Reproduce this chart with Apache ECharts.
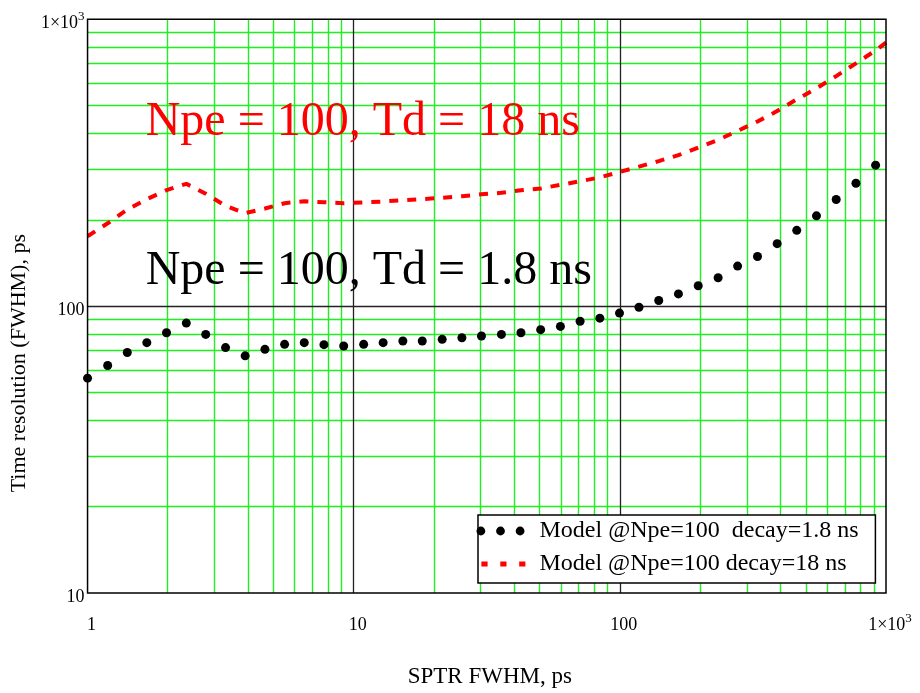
<!DOCTYPE html>
<html>
<head>
<meta charset="utf-8">
<script src="https://cdn.jsdelivr.net/npm/echarts@6/dist/echarts.min.js"></script>
<style>
  html, body { margin: 0; padding: 0; background: #ffffff; }
  #chart { width: 920px; height: 693px; }
</style>
</head>
<body>
<div id="chart"></div>
<script>
// SPTR FWHM (ps) at which the model was evaluated
const sptrFwhm = [1, 1.19, 1.41, 1.67, 1.98, 2.35, 2.78, 3.3, 3.91, 4.64, 5.5, 6.52, 7.73, 9.17,
  10.9, 12.9, 15.3, 18.1, 21.5, 25.5, 30.2, 35.9, 42.5, 50.4, 59.8, 70.9, 84.1, 99.7,
  118, 140, 166, 197, 234, 277, 329, 390, 462, 548, 650, 771, 914];

// Time resolution (FWHM, ps), Npe = 100, decay 1.8 ns
const resTd18 = [56.1, 62.1, 68.9, 74.6, 80.8, 87.3, 79.7, 71.7, 67.1, 70.7, 73.6, 74.6, 73.4, 72.6,
  73.6, 74.6, 75.6, 75.6, 76.6, 77.6, 78.7, 79.7, 80.8, 82.8, 85.0, 88.6, 90.8, 94.6,
  99.1, 104.6, 110.3, 117.8, 125.6, 137.9, 148.9, 165.1, 183.8, 206.5, 235.4, 268.1, 310.1];

// Time resolution (FWHM, ps), Npe = 100, decay 18 ns (last value at the axis end)
const sptrFwhmLong = sptrFwhm.concat([1000]);
const resTd180 = [175.2, 194.5, 217.1, 236.1, 253.7, 267.0, 246.5, 223.6, 211.0, 218.9, 228.5, 232.2, 230.3, 228.5,
  229.8, 231.6, 234.2, 236.2, 238.7, 241.8, 245.3, 248.3, 253.5, 257.3, 264.8, 272.5, 281.1, 293.5,
  306.4, 320.4, 336.1, 357.1, 379.7, 408.3, 440.2, 478.9, 525.8, 574.4, 633.9, 702.2, 779.1, 829.6];

// axis ticks and grid
const xTickValues = [1, 10, 100, 1000];
const xTickLabels = ['1', '10', '100', '1×10^3'];
const yTickValues = [10, 100, 1000];
const yTickLabels = ['10', '100', '1×10^3'];
const xGridMinor = [2, 3, 4, 5, 6, 7, 8, 9, 20, 30, 40, 50, 60, 70, 80, 90, 200, 300, 400, 500, 600, 700, 800, 900];
const xGridMajor = [10, 100];
const yGridMinor = [20, 30, 40, 50, 60, 70, 80, 90, 200, 300, 400, 500, 600, 700, 800, 900];
const yGridMajor = [100];

const nameShort = 'Model @Npe=100  decay=1.8 ns';
const nameLong = 'Model @Npe=100 decay=18 ns';
const noteLong = 'Npe = 100, Td = 18 ns';
const noteShort = 'Npe = 100, Td = 1.8 ns';

const SERIF = '"Liberation Serif", "Times New Roman", serif';
const GREEN = '#1ff01f';

function tickText(values, labels) {
  return function (v) {
    const i = values.indexOf(Math.round(v));
    if (i < 0) return '';
    const parts = labels[i].split('^');
    return parts.length > 1 ? '{b|' + parts[0] + '}{s|' + parts[1] + '}' : '{b|' + parts[0] + '}';
  };
}
const tickRich = {
  b: { fontFamily: SERIF, fontSize: 18, color: '#000', lineHeight: 26, verticalAlign: 'middle' },
  s: { fontFamily: SERIF, fontSize: 13, color: '#000', verticalAlign: 'top' }
};

const zip = (xs, ys) => ys.map((y, i) => [xs[i], y]);

const gridLines = []
  .concat(xGridMinor.map(v => ({ xAxis: v, lineStyle: { color: GREEN, width: 1.4 } })))
  .concat(yGridMinor.map(v => ({ yAxis: v, lineStyle: { color: GREEN, width: 1.4 } })))
  .concat(xGridMajor.map(v => ({ xAxis: v, lineStyle: { color: '#222', width: 1.3 } })))
  .concat(yGridMajor.map(v => ({ yAxis: v, lineStyle: { color: '#222', width: 1.3 } })));

const dotsIcon = 'path://M0,4.4a4.4,4.4 0 1,0 8.8,0a4.4,4.4 0 1,0 -8.8,0Z' +
  'M19.6,4.4a4.4,4.4 0 1,0 8.8,0a4.4,4.4 0 1,0 -8.8,0Z' +
  'M39.2,4.4a4.4,4.4 0 1,0 8.8,0a4.4,4.4 0 1,0 -8.8,0Z';
const dashIcon = 'path://M0,0h6.2v5h-6.2Z M18.9,0h6.2v5h-6.2Z M37.8,0h6.2v5h-6.2Z';

const chart = echarts.init(document.getElementById('chart'), null, { renderer: 'canvas' });

chart.setOption({
  backgroundColor: '#ffffff',
  animation: false,
  grid: {
    left: 87.3, top: 19.3, width: 798.7, height: 577.4,
    show: true, borderColor: '#000', borderWidth: 1.5, backgroundColor: 'transparent', z: 3
  },
  xAxis: {
    type: 'log', logBase: 10, min: 1, max: 1000,
    name: 'SPTR FWHM, ps', nameLocation: 'middle', nameGap: 72,
    nameTextStyle: { fontFamily: SERIF, fontSize: 23, color: '#000', padding: [0, 0, 0, 6] },
    axisLine: { show: false }, axisTick: { show: false }, splitLine: { show: false },
    axisLabel: {
      margin: 19, padding: [0, 0, 0, 8],
      formatter: tickText(xTickValues, xTickLabels), rich: tickRich,
      showMinLabel: true, showMaxLabel: true
    }
  },
  yAxis: {
    type: 'log', logBase: 10, min: 10, max: 1000,
    name: 'Time resolution (FWHM), ps', nameLocation: 'middle', nameRotate: 90, nameGap: 52,
    nameTextStyle: { fontFamily: SERIF, fontSize: 22, color: '#000', padding: [0, 114, 0, 0] },
    axisLine: { show: false }, axisTick: { show: false }, splitLine: { show: false },
    axisLabel: {
      margin: 3, padding: [8, 0, 0, 0],
      formatter: tickText(yTickValues, yTickLabels), rich: tickRich,
      showMinLabel: true, showMaxLabel: true
    }
  },
  legend: [
    {
      data: [{ name: nameShort, icon: dotsIcon }],
      left: 476.5, top: 516, padding: 0, itemWidth: 48, itemHeight: 8.8,
      selectedMode: false, z: 20,
      textStyle: { fontFamily: SERIF, fontSize: 24, color: '#000', lineHeight: 30, padding: [0, 0, 0, 10] }
    },
    {
      data: [{ name: nameLong, icon: dashIcon }],
      left: 481.4, top: 549, padding: 0, itemWidth: 44, itemHeight: 5,
      selectedMode: false, z: 20,
      textStyle: { fontFamily: SERIF, fontSize: 24, color: '#000', lineHeight: 30, padding: [0, 0, 0, 9] }
    }
  ],
  graphic: [
    {
      type: 'rect', z: 10, silent: true,
      shape: { x: 478, y: 515, width: 397.4, height: 68 },
      style: { fill: '#ffffff', stroke: '#000', lineWidth: 1.5 }
    },
    {
      type: 'text', z: 10, silent: true, x: 145.7, y: 122.5,
      style: { text: noteLong, fontFamily: SERIF, fontSize: 48, fill: '#ff0000',
        align: 'left', verticalAlign: 'middle', textAlign: 'left', textVerticalAlign: 'middle' }
    },
    {
      type: 'text', z: 10, silent: true, x: 145.7, y: 271.7,
      style: { text: noteShort, fontFamily: SERIF, fontSize: 48, fill: '#000000',
        align: 'left', verticalAlign: 'middle', textAlign: 'left', textVerticalAlign: 'middle' }
    }
  ],
  series: [
    {
      name: 'grid', type: 'line', data: [], z: 1, silent: true,
      markLine: {
        z: 1, silent: true, symbol: ['none', 'none'], animation: false,
        label: { show: false },
        lineStyle: { type: 'solid' },
        data: gridLines
      }
    },
    {
      name: nameLong, type: 'line', data: zip(sptrFwhmLong, resTd180),
      symbol: 'none', showSymbol: false, z: 2, clip: true,
      itemStyle: { color: '#ff0000' },
      lineStyle: { color: '#ff0000', width: 4, type: [9, 9], cap: 'butt' }
    },
    {
      name: nameShort, type: 'scatter', data: zip(sptrFwhm, resTd18),
      symbol: 'circle', symbolSize: 9, z: 2,
      itemStyle: { color: '#000000', opacity: 1 }
    }
  ]
});
</script>
</body>
</html>
